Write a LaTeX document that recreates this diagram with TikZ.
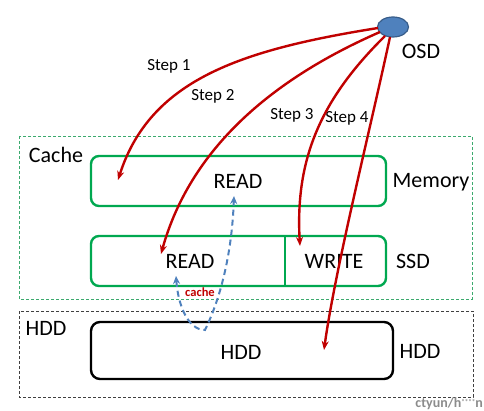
\documentclass[tikz,border=0pt]{standalone}
\usepackage{fontspec}
\setmainfont{Carlito}
\usetikzlibrary{arrows.meta,shapes.geometric}
\definecolor{grn}{RGB}{0,168,80}
\definecolor{dgrn}{RGB}{60,170,110}
\definecolor{redA}{RGB}{192,0,0}
\definecolor{blu}{RGB}{79,129,189}
\definecolor{bluD}{RGB}{56,93,138}
\tikzset{
  layer/.style={draw=grn,line width=2.4pt,rounded corners=8pt},
  redarrow/.style={draw=redA,line width=2.4pt,-{Stealth[length=9pt,width=7pt]}},
  lbl/.style={font=\fontsize{17}{20}\selectfont,inner sep=0pt},
  big/.style={font=\fontsize{22}{26}\selectfont,inner sep=0pt},
}
\begin{document}
\begin{tikzpicture}[x=1pt,y=-1pt]
\useasboundingbox (0,0) rectangle (484,411);
% outer dashed groups
\draw[dgrn,dashed,line width=0.9pt,dash pattern=on 3pt off 2pt] (19,136) rectangle (472,299);
\draw[black!75,dashed,line width=0.9pt,dash pattern=on 3pt off 2pt] (19,311) rectangle (473,397);
% boxes
\draw[layer] (91,156) rectangle (386,206);
\draw[layer] (91,236) rectangle (386,286);
\draw[grn,line width=2.4pt] (285,236) -- (285,286);
\draw[black,line width=2.4pt,rounded corners=9pt] (91,322) rectangle (393,379);
% labels
\node[big] (memread) at (238,181) {READ};
\node[big] (ssdread) at (190,261) {READ};
\node[big] (ssdwrite) at (334,261) {WRITE};
\node[big] (hddin) at (241,352) {HDD};
\node[big] (cache) at (56,155) {Cache};
\node[big] (memory) at (431,182) {Memory};
\node[big] (ssd) at (413,261) {SSD};
\node[big] (hddl) at (46,328) {HDD};
\node[big] (hddr) at (420,351) {HDD};
\node[big] (osdl) at (421,51) {OSD};
\node[lbl] (s1) at (169,66) {Step 1};
\node[lbl] (s2) at (213,96) {Step 2};
\node[lbl] (s3) at (292,115) {Step 3};
\node[lbl] (s4) at (347,118) {Step 4};
\node[inner sep=0pt,text=redA,font=\fontsize{12.5}{14}\selectfont\bfseries] (cachel) at (200,292) {cache};
\node[inner sep=0pt,text=black!45,font=\fontsize{14}{16}\selectfont\bfseries,anchor=east] (wm) at (483,404) {ctyun/h\raisebox{3pt}{\fontsize{7}{7}\selectfont ****}n};
% OSD
\node[ellipse,draw=bluD,fill=blu,line width=1.2pt,minimum width=31pt,minimum height=20pt,inner sep=0pt] (osd) at (393,27) {};
% targets
\coordinate (t1) at (118,180);
\coordinate (t2) at (161,254);
\coordinate (t3) at (300,246);
\coordinate (t4) at (324,350);
\coordinate (o1) at (378,28);
\coordinate (o2) at (380,32);
\coordinate (o3) at (385,36);
\coordinate (o4) at (390,37);
% red arrows
\draw[redarrow] (o1) .. controls (240,50) and (150,80) .. (t1);
\draw[redarrow] (o2) .. controls (270,80) and (190,150) .. (t2);
\draw[redarrow] (o3) .. controls (320,100) and (295,160) .. (t3);
\draw[redarrow] (o4) .. controls (370,130) and (335,270) .. (t4);
% blue dashed cache arrow
\coordinate (bl) at (176,276);
\coordinate (bv) at (205,330);
\coordinate (br) at (234,196);
\draw[blu,line width=2pt,dash pattern=on 6pt off 4pt,{Stealth[length=8pt,width=7pt]}-{Stealth[length=8pt,width=7pt]}]
  (bl) .. controls (178,305) and (188,330) .. (bv) .. controls (222,295) and (232,250) .. (br);
\end{tikzpicture}
\end{document}
